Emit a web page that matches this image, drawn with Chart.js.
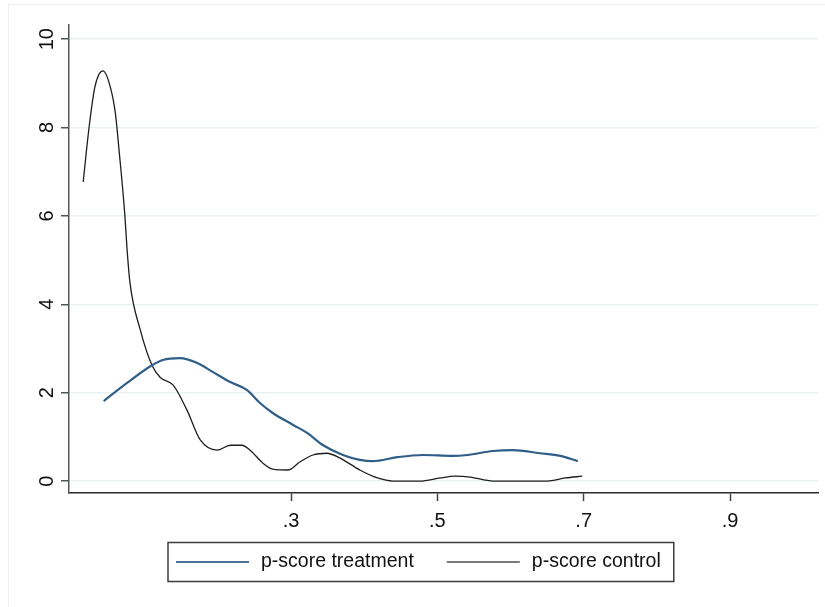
<!DOCTYPE html>
<html>
<head>
<meta charset="utf-8">
<script src="https://cdn.jsdelivr.net/npm/chart.js@4.4.0/dist/chart.umd.min.js"></script>
<style>
  html, body { margin: 0; padding: 0; background: #fff; }
  #wrap { position: relative; width: 825px; height: 607px; }
  #frame { position: absolute; left: 8px; top: 4px; right: 0; bottom: 0;
           border-left: 1px solid #f0f0f0; border-top: 1px solid #f0f0f0; }
  canvas { position: absolute; left: 0; top: 0; }
</style>
</head>
<body>
<div id="wrap">
  <div id="frame"></div>
  <canvas id="chart" width="825" height="607"></canvas>
</div>
<script>
// kernel density of the propensity score, treated vs control
const treatX = [0.044, 0.076, 0.110, 0.125, 0.148, 0.172, 0.193, 0.217, 0.240, 0.258, 0.275, 0.303, 0.322,
                0.344, 0.371, 0.394, 0.412, 0.445, 0.480, 0.521, 0.541, 0.576, 0.603, 0.640, 0.668, 0.692];
const treatY = [1.81, 2.22, 2.62, 2.74, 2.78, 2.67, 2.47, 2.24, 2.06, 1.76, 1.54, 1.27, 1.09,
                0.81, 0.59, 0.48, 0.45, 0.54, 0.59, 0.57, 0.59, 0.68, 0.70, 0.63, 0.57, 0.45];

const controlX = [0.016, 0.024, 0.032, 0.043, 0.053, 0.060, 0.065, 0.073, 0.076, 0.080, 0.094, 0.110, 0.121,
                  0.139, 0.158, 0.176, 0.199, 0.217, 0.233, 0.244, 0.262, 0.275, 0.296, 0.312, 0.330, 0.349,
                  0.367, 0.394, 0.418, 0.439, 0.476, 0.504, 0.524, 0.545, 0.576, 0.650, 0.675, 0.698];
const controlY = [6.77, 8.00, 8.92, 9.28, 8.92, 8.32, 7.49, 6.00, 5.23, 4.48, 3.42, 2.62, 2.35,
                  2.17, 1.60, 0.93, 0.70, 0.81, 0.81, 0.70, 0.40, 0.27, 0.25, 0.43, 0.59, 0.63,
                  0.52, 0.25, 0.07, 0.00, 0.00, 0.07, 0.11, 0.09, 0.00, 0.00, 0.07, 0.11];

const xTicks = [0.3, 0.5, 0.7, 0.9];
const yTicks = [0, 2, 4, 6, 8, 10];
const seriesNames = ['p-score treatment', 'p-score control'];

const toPoints = (xs, ys) => xs.map((x, i) => ({ x: x, y: ys[i] }));

const FONT = "'Liberation Sans', Arial, sans-serif";

// Stata-style legend: framed row of line keys under the x axis
const stataLegend = {
  id: 'stataLegend',
  afterDraw(chart) {
    const ctx = chart.ctx;
    const keyLen = 73, keyGap = 12, itemGap = 33, padL = 8, padR = 13, h = 39;
    ctx.save();
    ctx.font = '19.5px ' + FONT;
    const items = chart.data.datasets.map(ds => ({ ds: ds, w: ctx.measureText(ds.label).width }));
    let total = padL + padR;
    items.forEach((it, i) => { total += keyLen + keyGap + it.w + (i ? itemGap : 0); });
    const left = Math.round(chart.width / 2 + 8 - total / 2);
    const cy = chart.chartArea.bottom + 69;

    ctx.strokeStyle = '#3c3c3c';
    ctx.lineWidth = 1.5;
    ctx.strokeRect(left, cy - h / 2, total, h);

    let x = left + padL;
    ctx.textBaseline = 'middle';
    ctx.fillStyle = '#111';
    items.forEach(it => {
      ctx.strokeStyle = it.ds.backgroundColor;
      ctx.lineWidth = 2;
      ctx.beginPath();
      ctx.moveTo(x, cy);
      ctx.lineTo(x + keyLen, cy);
      ctx.stroke();
      x += keyLen + keyGap;
      ctx.fillText(it.ds.label, x, cy);
      x += it.w + itemGap;
    });
    ctx.restore();
  }
};

new Chart(document.getElementById('chart'), {
  type: 'line',
  data: {
    datasets: [
      {
        label: seriesNames[0],
        data: toPoints(treatX, treatY),
        borderColor: '#2f5f88',
        backgroundColor: '#4d7396',
        borderWidth: 2.2,
        pointRadius: 0,
        cubicInterpolationMode: 'monotone'
      },
      {
        label: seriesNames[1],
        data: toPoints(controlX, controlY),
        borderColor: '#1e1e1e',
        backgroundColor: '#7a7a7a',
        borderWidth: 1.3,
        pointRadius: 0,
        cubicInterpolationMode: 'monotone'
      }
    ]
  },
  options: {
    responsive: false,
    animation: false,
    layout: { padding: { left: 0, top: 25, right: 7, bottom: 74 } },
    plugins: {
      tooltip: { enabled: false },
      legend: { display: false }
    },
    scales: {
      x: {
        type: 'linear',
        min: -0.0034,
        max: 1.0202,
        afterBuildTicks: s => { s.ticks = xTicks.map(v => ({ value: v })); },
        afterFit: s => { s.height = 40; },
        ticks: {
          font: { family: FONT, size: 20 },
          color: '#111',
          padding: 8,
          maxRotation: 0,
          callback: v => String(Number(v.toFixed(1))).replace(/^0/, '')
        },
        grid: { drawOnChartArea: false, tickLength: 8, tickColor: '#444', tickWidth: 1.5 },
        border: { color: '#2a2a2a', width: 1.5 }
      },
      y: {
        min: -0.27,
        max: 10.32,
        afterBuildTicks: s => { s.ticks = yTicks.map(v => ({ value: v })); },
        afterFit: s => { s.width = 69; },
        ticks: {
          font: { family: FONT, size: 20 },
          color: '#111',
          padding: 2,
          minRotation: 90,
          maxRotation: 90,
          crossAlign: 'center'
        },
        grid: { color: '#eaf1f3', lineWidth: 1.5, tickLength: 8, tickColor: '#555', tickWidth: 1.5 },
        border: { color: '#555', width: 1.5 }
      }
    }
  },
  plugins: [stataLegend]
});
</script>
</body>
</html>
